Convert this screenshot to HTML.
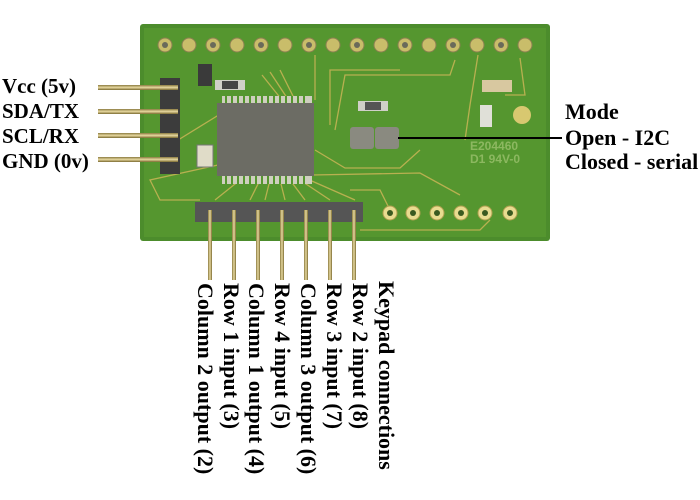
<!DOCTYPE html>
<html><head><style>
body{margin:0;width:700px;height:500px;background:#fff;position:relative;overflow:hidden;font-family:"Liberation Serif",serif;font-weight:bold;color:#000}
.a{position:absolute}
.lbl{position:absolute;font-size:21px;line-height:24px;white-space:nowrap}
.r{font-size:22px}
.rot{position:absolute;font-size:22px;line-height:24px;white-space:nowrap;transform-origin:0 0;transform:rotate(90deg)}
</style></head><body>
<svg class="a" style="left:0;top:0" width="700" height="500">
<defs>
<linearGradient id="pin" x1="0" x2="1"><stop offset="0" stop-color="#8a7a40"/><stop offset=".5" stop-color="#e8d9a0"/><stop offset="1" stop-color="#7a6a30"/></linearGradient>
<linearGradient id="pinh" x1="0" y1="0" x2="0" y2="1"><stop offset="0" stop-color="#8a7a40"/><stop offset=".5" stop-color="#e8d9a0"/><stop offset="1" stop-color="#7a6a30"/></linearGradient>
</defs>
<rect x="140" y="24" width="410" height="217" rx="3" fill="#4c8c2c"/>
<rect x="144" y="28" width="402" height="209" fill="#55962f"/>
<g stroke="#b8b050" stroke-width="1.3" fill="none">
<path d="M400 70 L330 70 L330 125"/><path d="M455 60 L450 75 L345 75 L335 130"/>
<path d="M300 110 L280 70"/><path d="M295 110 L270 72"/><path d="M290 110 L262 75"/>
<path d="M315 100 L315 55"/><path d="M230 108 L170 145"/>
<path d="M315 150 L345 168 L400 168 L420 150"/><path d="M312 175 L420 173 L460 195"/>
<path d="M350 190 L380 190 L390 210"/><path d="M360 230 L480 230 L490 220"/>
<path d="M465 140 L470 105 L478 55"/><path d="M520 58 L525 95 L505 95"/>
<path d="M260 180 L250 200"/><path d="M270 180 L265 200"/><path d="M280 180 L285 200"/><path d="M290 180 L305 200"/>
<path d="M300 180 L330 200"/><path d="M305 178 L355 200"/>
<path d="M240 180 L215 200"/><path d="M218 165 L150 180 L160 200 L200 200"/>
</g>
<g fill="#c9bd6a" stroke="#8a8050" stroke-width="1">
<circle cx="165" cy="45" r="7"/><circle cx="189" cy="45" r="7"/><circle cx="213" cy="45" r="7"/><circle cx="237" cy="45" r="7"/><circle cx="261" cy="45" r="7"/><circle cx="285" cy="45" r="7"/><circle cx="309" cy="45" r="7"/><circle cx="333" cy="45" r="7"/><circle cx="357" cy="45" r="7"/><circle cx="381" cy="45" r="7"/><circle cx="405" cy="45" r="7"/><circle cx="429" cy="45" r="7"/><circle cx="453" cy="45" r="7"/><circle cx="477" cy="45" r="7"/><circle cx="501" cy="45" r="7"/><circle cx="525" cy="45" r="7"/>
</g>
<g fill="#6a6a5a"><circle cx="165" cy="45" r="3"/><circle cx="213" cy="45" r="3"/><circle cx="261" cy="45" r="3"/><circle cx="309" cy="45" r="3"/><circle cx="357" cy="45" r="3"/><circle cx="405" cy="45" r="3"/><circle cx="453" cy="45" r="3"/><circle cx="501" cy="45" r="3"/></g>
<g fill="#e8dc90" stroke="#b0a050"><circle cx="390" cy="213" r="7"/><circle cx="413" cy="213" r="7"/><circle cx="437" cy="213" r="7"/><circle cx="461" cy="213" r="7"/><circle cx="485" cy="213" r="7"/><circle cx="510" cy="213" r="7"/></g>
<g fill="#3a5a20"><circle cx="390" cy="213" r="3"/><circle cx="413" cy="213" r="3"/><circle cx="437" cy="213" r="3"/><circle cx="461" cy="213" r="3"/><circle cx="485" cy="213" r="3"/><circle cx="510" cy="213" r="3"/></g>
<g fill="#cfcfbf"><rect x="222" y="96" width="90" height="10"/><rect x="222" y="174" width="90" height="10"/></g>
<g stroke="#55962f" stroke-width="2"><path d="M226 96V106M232 96V106M238 96V106M244 96V106M250 96V106M256 96V106M262 96V106M268 96V106M274 96V106M280 96V106M286 96V106M292 96V106M298 96V106M304 96V106M226 174V184M232 174V184M238 174V184M244 174V184M250 174V184M256 174V184M262 174V184M268 174V184M274 174V184M280 174V184M286 174V184M292 174V184M298 174V184M304 174V184"/></g>
<rect x="217" y="103" width="97" height="73" fill="#6c6c64"/>
<rect x="198" y="64" width="14" height="22" fill="#3a3a3a"/>
<rect x="215" y="80" width="30" height="10" fill="#d0d0c8"/><rect x="222" y="81" width="16" height="8" fill="#444"/>
<rect x="197" y="145" width="16" height="22" fill="#e0dcc8" stroke="#777"/>
<rect x="358" y="101" width="30" height="10" fill="#d0d0c8"/><rect x="365" y="102" width="16" height="8" fill="#555"/>
<rect x="482" y="80" width="30" height="12" fill="#d8c8a0"/>
<rect x="480" y="105" width="12" height="22" fill="#e0e0d8"/>
<circle cx="522" cy="115" r="9" fill="#d8c870"/>
<rect x="350" y="127" width="24" height="22" rx="3" fill="#8a8a80"/><rect x="375" y="127" width="24" height="22" rx="3" fill="#8a8a80"/>
<text x="470" y="150" font-family="Liberation Sans" font-size="12" fill="#8cb860">E204460</text>
<text x="470" y="163" font-family="Liberation Sans" font-size="12" fill="#8cb860">D1 94V-0</text>
<rect x="160" y="78" width="20" height="96" fill="#3c3c3c"/>
<g fill="url(#pinh)"><rect x="98" y="85" width="80" height="5"/><rect x="98" y="109" width="80" height="5"/><rect x="98" y="133" width="80" height="5"/><rect x="98" y="157" width="80" height="5"/></g>
<rect x="195" y="202" width="168" height="20" fill="#555"/>
<g fill="url(#pin)"><rect x="208" y="210" width="4" height="70"/><rect x="232" y="210" width="4" height="70"/><rect x="256" y="210" width="4" height="70"/><rect x="280" y="210" width="4" height="70"/><rect x="304" y="210" width="4" height="70"/><rect x="328" y="210" width="4" height="70"/><rect x="352" y="210" width="4" height="70"/></g>
<line x1="398" y1="138" x2="562" y2="138" stroke="#000" stroke-width="2"/>
</svg>
<div class="lbl" style="left:2px;top:74px">Vcc (5v)</div>
<div class="lbl" style="left:2px;top:99px">SDA/TX</div>
<div class="lbl" style="left:2px;top:124px">SCL/RX</div>
<div class="lbl" style="left:2px;top:149px">GND (0v)</div>
<div class="lbl r" style="left:565px;top:100px">Mode</div>
<div class="lbl r" style="left:565px;top:126px">Open - I2C</div>
<div class="lbl r" style="left:565px;top:150px">Closed - serial</div>
<div class="rot" style="left:217px;top:283px">Column 2 output (2)</div>
<div class="rot" style="left:243px;top:283px">Row 1 input (3)</div>
<div class="rot" style="left:268px;top:283px">Column 1 output (4)</div>
<div class="rot" style="left:294px;top:283px">Row 4 input (5)</div>
<div class="rot" style="left:320px;top:283px">Column 3 output (6)</div>
<div class="rot" style="left:346px;top:283px">Row 3 input (7)</div>
<div class="rot" style="left:372px;top:283px">Row 2 input (8)</div>
<div class="rot" style="left:398px;top:281px">Keypad connections</div>
</body></html>
